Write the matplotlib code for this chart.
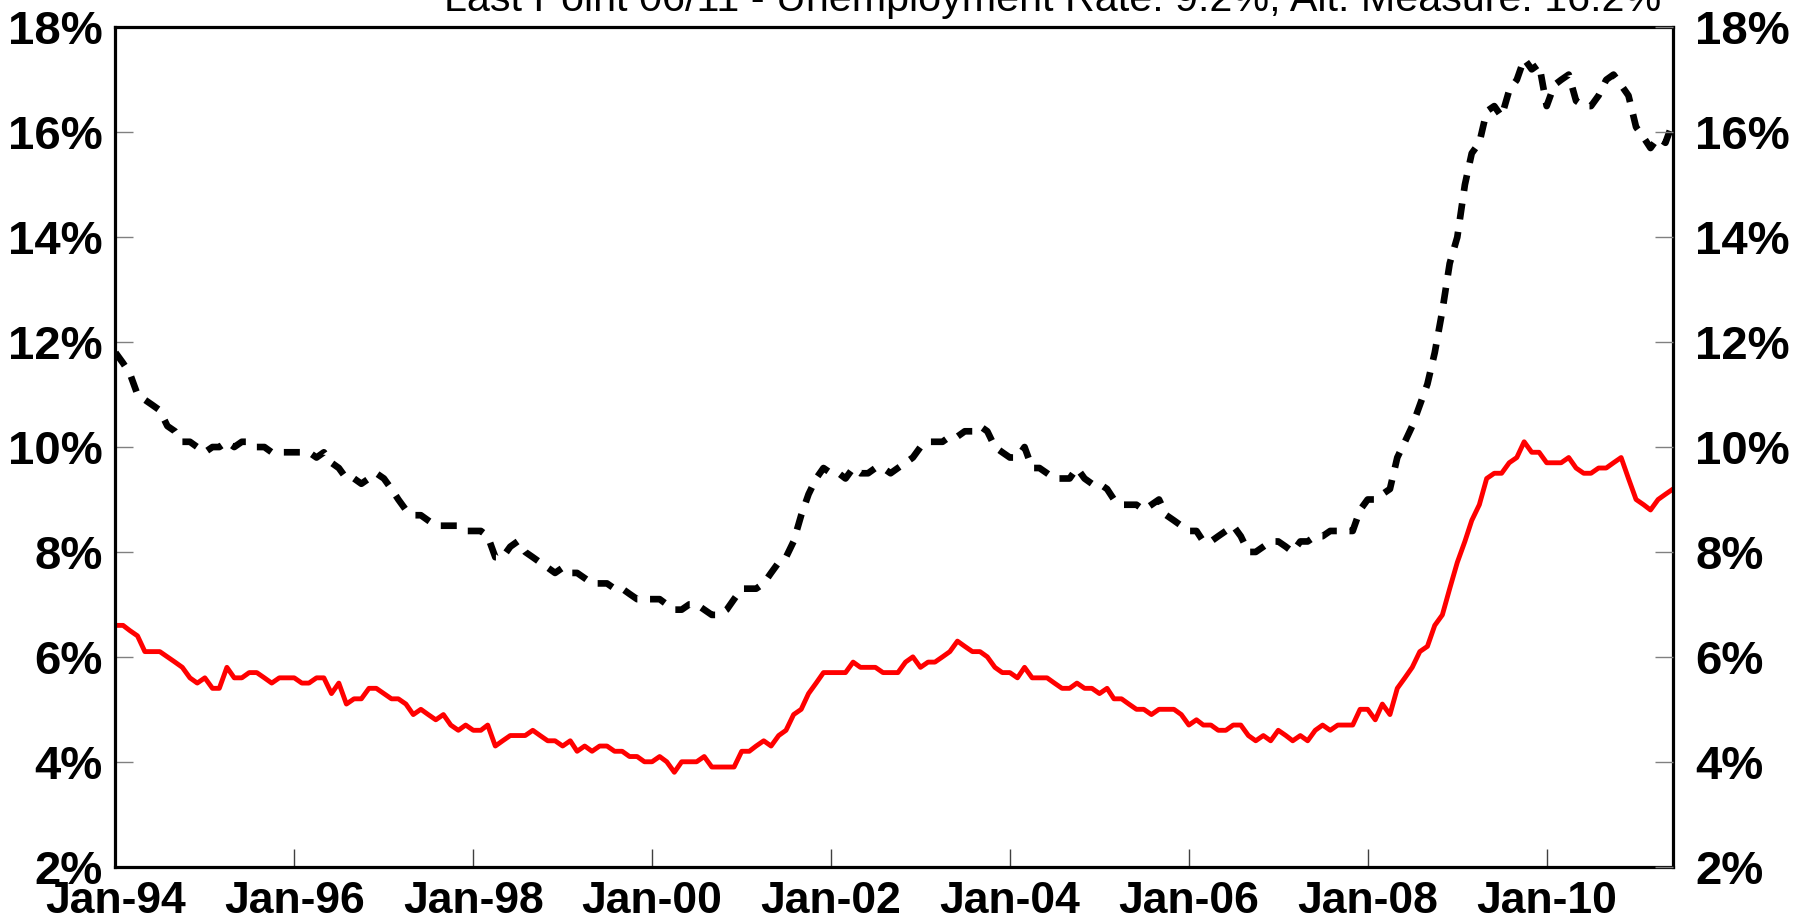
import pandas as pd
import matplotlib.pyplot as plt
import matplotlib.dates as mdates
from matplotlib.ticker import FuncFormatter

start_month = "1994-01-01"

# official unemployment rate (U-3), monthly, Jan-94 .. Jun-11
unemployment = [
    6.6, 6.6, 6.5, 6.4, 6.1, 6.1, 6.1, 6.0, 5.9, 5.8, 5.6, 5.5,
    5.6, 5.4, 5.4, 5.8, 5.6, 5.6, 5.7, 5.7, 5.6, 5.5, 5.6, 5.6,
    5.6, 5.5, 5.5, 5.6, 5.6, 5.3, 5.5, 5.1, 5.2, 5.2, 5.4, 5.4,
    5.3, 5.2, 5.2, 5.1, 4.9, 5.0, 4.9, 4.8, 4.9, 4.7, 4.6, 4.7,
    4.6, 4.6, 4.7, 4.3, 4.4, 4.5, 4.5, 4.5, 4.6, 4.5, 4.4, 4.4,
    4.3, 4.4, 4.2, 4.3, 4.2, 4.3, 4.3, 4.2, 4.2, 4.1, 4.1, 4.0,
    4.0, 4.1, 4.0, 3.8, 4.0, 4.0, 4.0, 4.1, 3.9, 3.9, 3.9, 3.9,
    4.2, 4.2, 4.3, 4.4, 4.3, 4.5, 4.6, 4.9, 5.0, 5.3, 5.5, 5.7,
    5.7, 5.7, 5.7, 5.9, 5.8, 5.8, 5.8, 5.7, 5.7, 5.7, 5.9, 6.0,
    5.8, 5.9, 5.9, 6.0, 6.1, 6.3, 6.2, 6.1, 6.1, 6.0, 5.8, 5.7,
    5.7, 5.6, 5.8, 5.6, 5.6, 5.6, 5.5, 5.4, 5.4, 5.5, 5.4, 5.4,
    5.3, 5.4, 5.2, 5.2, 5.1, 5.0, 5.0, 4.9, 5.0, 5.0, 5.0, 4.9,
    4.7, 4.8, 4.7, 4.7, 4.6, 4.6, 4.7, 4.7, 4.5, 4.4, 4.5, 4.4,
    4.6, 4.5, 4.4, 4.5, 4.4, 4.6, 4.7, 4.6, 4.7, 4.7, 4.7, 5.0,
    5.0, 4.8, 5.1, 4.9, 5.4, 5.6, 5.8, 6.1, 6.2, 6.6, 6.8, 7.3,
    7.8, 8.2, 8.6, 8.9, 9.4, 9.5, 9.5, 9.7, 9.8, 10.1, 9.9, 9.9,
    9.7, 9.7, 9.7, 9.8, 9.6, 9.5, 9.5, 9.6, 9.6, 9.7, 9.8, 9.4,
    9.0, 8.9, 8.8, 9.0, 9.1, 9.2,
]

# alternative measure (U-6), monthly, Jan-94 .. Jun-11
alt_measure = [
    11.8, 11.6, 11.4, 11.0, 10.9, 10.8, 10.7, 10.4, 10.3, 10.1, 10.1, 10.0,
    9.9, 10.0, 10.0, 10.1, 10.0, 10.1, 10.1, 10.0, 10.0, 9.9, 9.9, 9.9,
    9.9, 9.9, 9.9, 9.8, 9.9, 9.7, 9.6, 9.4, 9.4, 9.3, 9.4, 9.5,
    9.4, 9.2, 9.0, 8.8, 8.7, 8.7, 8.6, 8.5, 8.5, 8.5, 8.5, 8.4,
    8.4, 8.4, 8.3, 7.9, 7.9, 8.1, 8.2, 8.0, 7.9, 7.8, 7.7, 7.6,
    7.7, 7.6, 7.6, 7.5, 7.4, 7.4, 7.4, 7.3, 7.3, 7.2, 7.1, 7.1,
    7.1, 7.1, 7.0, 6.9, 6.9, 7.0, 7.0, 6.9, 6.8, 6.8, 6.9, 7.1,
    7.3, 7.3, 7.3, 7.4, 7.6, 7.8, 7.9, 8.2, 8.7, 9.1, 9.4, 9.6,
    9.5, 9.5, 9.4, 9.6, 9.5, 9.5, 9.6, 9.6, 9.5, 9.6, 9.7, 9.8,
    10.0, 10.1, 10.1, 10.1, 10.2, 10.2, 10.3, 10.3, 10.4, 10.3, 10.0, 9.9,
    9.8, 9.8, 10.0, 9.6, 9.6, 9.5, 9.4, 9.4, 9.4, 9.6, 9.4, 9.3,
    9.3, 9.2, 9.0, 8.9, 8.9, 8.9, 8.8, 8.9, 9.0, 8.7, 8.6, 8.5,
    8.4, 8.4, 8.2, 8.2, 8.3, 8.4, 8.5, 8.3, 8.0, 8.0, 8.1, 8.2,
    8.2, 8.1, 8.0, 8.2, 8.2, 8.3, 8.3, 8.4, 8.4, 8.4, 8.4, 8.8,
    9.0, 9.0, 9.1, 9.2, 9.8, 10.1, 10.4, 10.8, 11.2, 11.8, 12.6, 13.5,
    14.0, 15.0, 15.6, 15.8, 16.4, 16.5, 16.3, 16.8, 17.0, 17.4, 17.2, 17.3,
    16.5, 16.9, 17.0, 17.1, 16.6, 16.5, 16.5, 16.7, 17.0, 17.1, 16.9, 16.7,
    16.1, 15.9, 15.7, 15.9, 15.8, 16.2,
]

title_text = "Last Point 06/11 - Unemployment Rate: 9.2%, Alt. Measure: 16.2%"
y_ticks = [2, 4, 6, 8, 10, 12, 14, 16, 18]


def pct(v, pos):
    return f"{v:.0f}%"


def plot():
    dates = pd.date_range(start_month, periods=len(unemployment), freq="MS")

    fig = plt.figure(figsize=(17.93, 9.22), dpi=100)
    ax = fig.add_axes([0.0644, 0.06, 0.8687, 0.9103])

    ax.plot(dates, alt_measure, color="black", lw=4.8, ls=(0, (2.4, 1.9)))
    ax.plot(dates, unemployment, color="#ff0000", lw=3.5, ls="-")

    ax.set_xlim(dates[0], dates[-1])
    ax.set_ylim(2, 18)
    ax.set_yticks(y_ticks)
    ax.yaxis.set_major_formatter(FuncFormatter(pct))
    ax.xaxis.set_major_locator(mdates.YearLocator(2, month=1, day=1))
    ax.xaxis.set_major_formatter(mdates.DateFormatter("%b-%y"))

    for s in ax.spines.values():
        s.set_linewidth(2.3)
        s.set_color("black")

    ax.tick_params(axis="y", direction="in", length=13, width=1.0, color="#808080",
                   left=True, right=True, labelsize=34, pad=9)
    ax.tick_params(axis="x", direction="in", length=13, width=1.0, color="#404040",
                   labelsize=32, pad=10)

    # right hand labels, a little further from the frame
    ax2 = ax.twinx()
    ax2.set_ylim(2, 18)
    ax2.set_yticks(y_ticks)
    ax2.yaxis.set_major_formatter(FuncFormatter(pct))
    ax2.tick_params(axis="y", direction="in", length=13, width=1.0, color="#808080",
                    labelsize=34, pad=16)
    for s in ax2.spines.values():
        s.set_visible(False)

    fig.text(1053 / 1793, 1 - 11 / 922, title_text, ha="center", va="baseline",
             fontsize=29.7, fontweight="normal")

    plt.savefig("out.png", dpi=100)


if __name__ == "__main__":
    plt.rcParams["font.family"] = ["Liberation Sans", "DejaVu Sans"]
    plt.rcParams["font.weight"] = "bold"
    plot()
